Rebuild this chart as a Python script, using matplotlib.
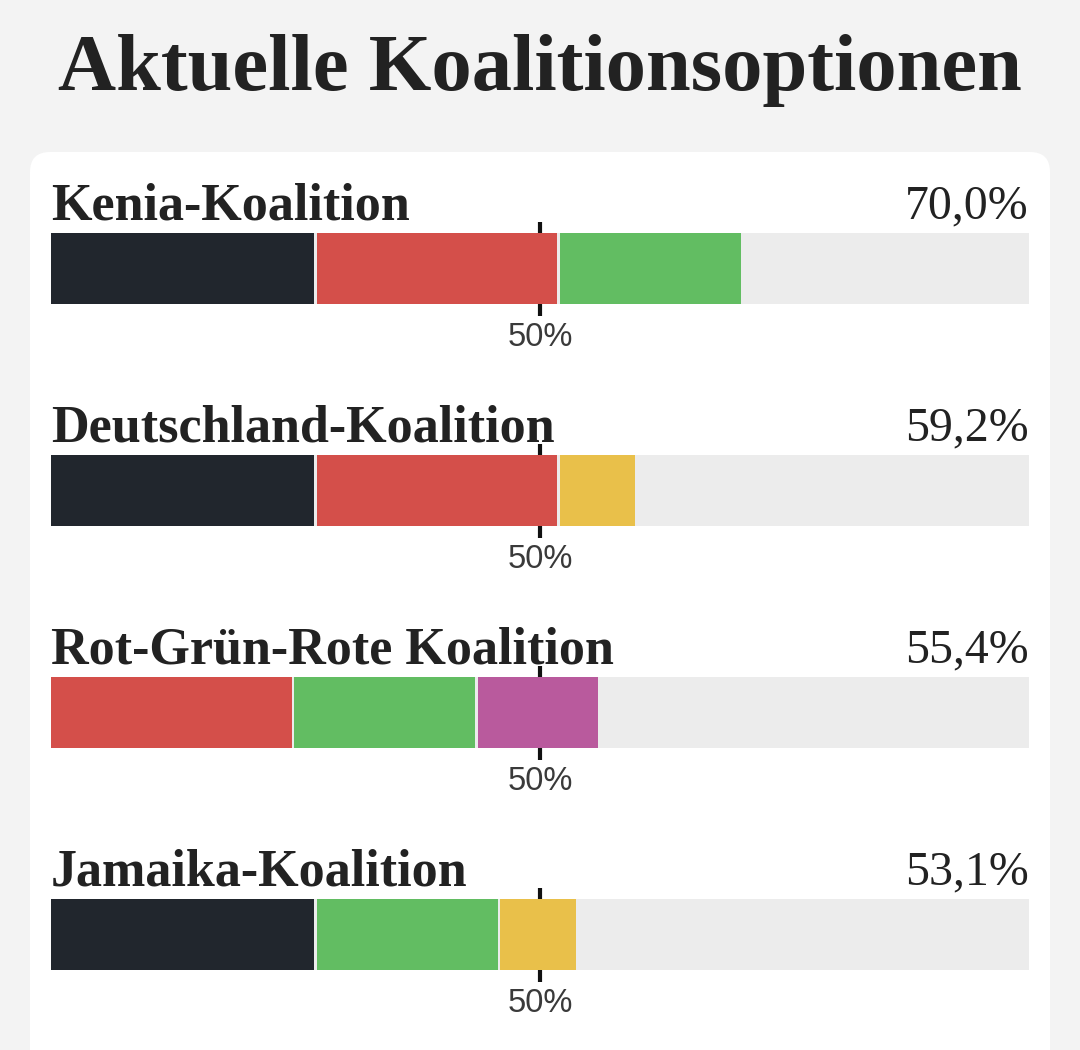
import matplotlib
matplotlib.use("Agg")
import matplotlib.pyplot as plt
from matplotlib.patches import FancyBboxPatch

# party vote shares (%)
parties = ["CDU", "SPD", "Grüne", "FDP", "Linke"]
shares = [26.9, 24.6, 18.5, 7.7, 12.3]
colors = ["#21262d", "#d44f4a", "#62bd62", "#e9c04a", "#b95a9d"]

coalitions = ["Kenia-Koalition", "Deutschland-Koalition",
              "Rot-Grün-Rote Koalition", "Jamaika-Koalition"]
members = [["CDU", "SPD", "Grüne"],
           ["CDU", "SPD", "FDP"],
           ["SPD", "Grüne", "Linke"],
           ["CDU", "Grüne", "FDP"]]

W, H = 1080, 1050
fig = plt.figure(figsize=(W / 100, H / 100), dpi=100)
fig.patch.set_facecolor("#f3f3f3")

# white card
card = FancyBboxPatch((0.30, -0.5), 10.20, 10.5 - 1.52 + 0.5,
                      boxstyle="round,pad=0,rounding_size=0.2",
                      transform=fig.dpi_scale_trans, facecolor="white",
                      edgecolor="none", zorder=-5)
fig.patches.append(card)

fig.text(540 / W, 1 - 90 / H, "Aktuelle Koalitionsoptionen", ha="center",
         va="baseline", fontsize=58, fontweight="bold",
         family="Liberation Serif", color="#222222")

ax = fig.add_axes([51 / W, 0, 978 / W, 1])
ax.set_xlim(0, 100)
ax.set_ylim(H, 0)
ax.axis("off")

bar_h = 71
first_top = 233
pitch = 222
gap = 0.28  # white gap between segments, in % units

for i, (name, mem) in enumerate(zip(coalitions, members)):
    top = first_top + i * pitch
    yc = top + bar_h / 2
    ax.vlines(50, top - 11, top + bar_h + 12, colors="#111111", lw=3, zorder=1)
    ax.barh(yc, 100, height=bar_h, color="#ececec", zorder=2)
    left = 0
    total = 0
    for j, p in enumerate(mem):
        k = parties.index(p)
        ax.barh(yc, shares[k], left=left, height=bar_h, color=colors[k], zorder=3)
        left += shares[k] + gap
        total += shares[k]
    ax.text(0, top - 13, name, ha="left", va="baseline", fontsize=37.5,
            fontweight="bold", family="Liberation Serif", color="#222222", zorder=5)
    ax.text(100, top - 15, f"{total:.1f}".replace(".", ",") + "%", ha="right",
            va="baseline", fontsize=34.5, family="Liberation Serif", color="#222222")
    ax.text(50, top + bar_h + 42, "50%", ha="center", va="baseline",
            fontsize=23.5, family="Liberation Sans", color="#3a3a3a")

fig.savefig("out.png", dpi=100, facecolor=fig.get_facecolor())
